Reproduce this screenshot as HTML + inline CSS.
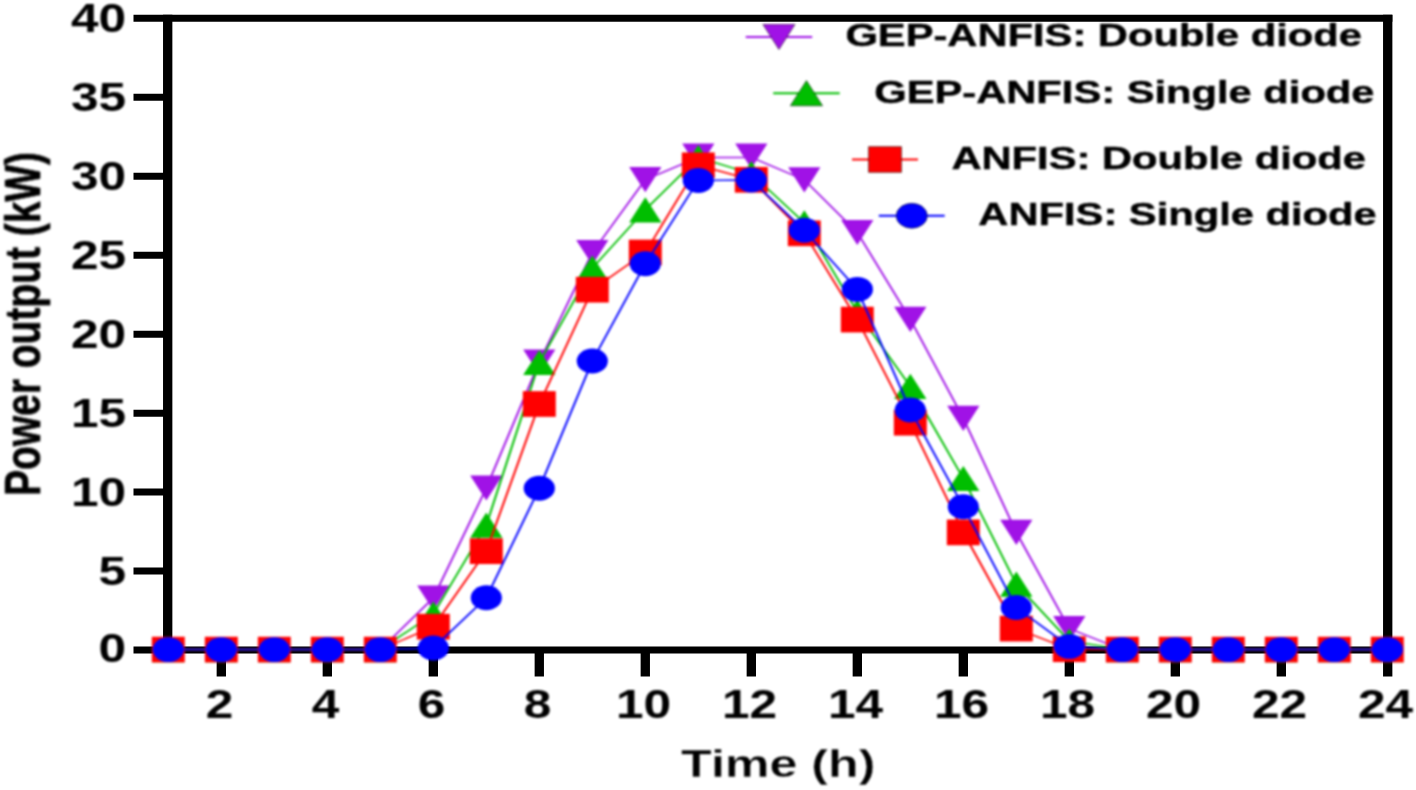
<!DOCTYPE html>
<html lang="en">
<head>
<meta charset="utf-8">
<title>Power output vs Time</title>
<style>
html,body{margin:0;padding:0;background:#fff;}
body{width:1416px;height:790px;overflow:hidden;}
svg{display:block;}
</style>
</head>
<body>
<svg width="1416" height="790" viewBox="0 0 1416 790">
<rect width="1416" height="790" fill="#fff"/>
<defs><filter id="soft" x="-2%" y="-2%" width="104%" height="104%" color-interpolation-filters="sRGB"><feGaussianBlur stdDeviation="0.8"/></filter></defs>
<g transform="scale(1.333333,1)">
<g stroke="#000" stroke-width="7.0" fill="none" stroke-linecap="butt">
<line x1="100.12" y1="18.2" x2="1044.28" y2="18.2"/>
<line x1="100.12" y1="650.0" x2="1044.28" y2="650.0"/>
<line x1="125.77" y1="14.7" x2="125.77" y2="653.5"/>
<line x1="1040.78" y1="14.7" x2="1040.78" y2="676.5"/>
<line x1="100.12" y1="571.05" x2="125.77" y2="571.05"/>
<line x1="100.12" y1="492.10" x2="125.77" y2="492.10"/>
<line x1="100.12" y1="413.15" x2="125.77" y2="413.15"/>
<line x1="100.12" y1="334.20" x2="125.77" y2="334.20"/>
<line x1="100.12" y1="255.25" x2="125.77" y2="255.25"/>
<line x1="100.12" y1="176.30" x2="125.77" y2="176.30"/>
<line x1="100.12" y1="97.35" x2="125.77" y2="97.35"/>
<line x1="165.98" y1="650.0" x2="165.98" y2="676.5"/>
<line x1="245.48" y1="650.0" x2="245.48" y2="676.5"/>
<line x1="324.98" y1="650.0" x2="324.98" y2="676.5"/>
<line x1="404.47" y1="650.0" x2="404.47" y2="676.5"/>
<line x1="483.97" y1="650.0" x2="483.97" y2="676.5"/>
<line x1="563.48" y1="650.0" x2="563.48" y2="676.5"/>
<line x1="642.98" y1="650.0" x2="642.98" y2="676.5"/>
<line x1="722.48" y1="650.0" x2="722.48" y2="676.5"/>
<line x1="801.98" y1="650.0" x2="801.98" y2="676.5"/>
<line x1="881.48" y1="650.0" x2="881.48" y2="676.5"/>
<line x1="960.98" y1="650.0" x2="960.98" y2="676.5"/>
</g>
</g>
<g filter="url(#soft)"><g transform="scale(1.333333,1)">
<g font-family="'Liberation Sans', Arial, sans-serif" font-weight="bold" font-size="40.2" fill="#000">
<text transform="translate(94.65,662.30) scale(0.925,1)" text-anchor="end">0</text>
<text transform="translate(94.65,584.75) scale(0.925,1)" text-anchor="end">5</text>
<text transform="translate(94.65,505.80) scale(0.925,1)" text-anchor="end">10</text>
<text transform="translate(94.65,426.85) scale(0.925,1)" text-anchor="end">15</text>
<text transform="translate(94.65,347.90) scale(0.925,1)" text-anchor="end">20</text>
<text transform="translate(94.65,268.95) scale(0.925,1)" text-anchor="end">25</text>
<text transform="translate(94.65,190.00) scale(0.925,1)" text-anchor="end">30</text>
<text transform="translate(94.65,111.05) scale(0.925,1)" text-anchor="end">35</text>
<text transform="translate(94.65,32.10) scale(0.925,1)" text-anchor="end">40</text>
<text transform="translate(164.62,718) scale(0.925,1)" text-anchor="middle">2</text>
<text transform="translate(244.12,718) scale(0.925,1)" text-anchor="middle">4</text>
<text transform="translate(323.62,718) scale(0.925,1)" text-anchor="middle">6</text>
<text transform="translate(403.12,718) scale(0.925,1)" text-anchor="middle">8</text>
<text transform="translate(482.62,718) scale(0.925,1)" text-anchor="middle">10</text>
<text transform="translate(562.12,718) scale(0.925,1)" text-anchor="middle">12</text>
<text transform="translate(641.62,718) scale(0.925,1)" text-anchor="middle">14</text>
<text transform="translate(721.12,718) scale(0.925,1)" text-anchor="middle">16</text>
<text transform="translate(800.62,718) scale(0.925,1)" text-anchor="middle">18</text>
<text transform="translate(880.12,718) scale(0.925,1)" text-anchor="middle">20</text>
<text transform="translate(959.62,718) scale(0.925,1)" text-anchor="middle">22</text>
<text transform="translate(1039.12,718) scale(0.925,1)" text-anchor="middle">24</text>
</g>
<g font-family="'Liberation Sans', Arial, sans-serif" font-weight="bold" fill="#000">
<text font-size="39.0" stroke="#fff" stroke-width="0.4" transform="translate(583.73,777.3) scale(0.966,1)" text-anchor="middle">Time (h)</text>
<text font-size="39.0" stroke="#000" stroke-width="0.5" stroke-linejoin="round" transform="translate(30.00,323.9) rotate(-90) scale(0.999,0.955)" text-anchor="middle">Power output (kW)</text>
</g>
<polyline fill="none" stroke="#A012E6" stroke-width="1.5" stroke-linejoin="round" points="126.23,649.60 165.98,649.60 205.73,649.60 245.48,649.60 285.23,649.60 324.98,598.00 364.73,488.00 404.47,362.00 444.22,252.50 483.97,179.70 523.73,157.40 563.48,157.40 603.23,179.90 642.98,232.50 682.73,319.30 722.48,418.30 762.23,532.40 801.98,628.70 841.73,649.60 881.48,649.60 921.23,649.60 960.98,649.60 1000.73,649.60 1040.48,649.60"/>
<polygon points="114.13,637.00 138.33,637.00 126.23,662.20" fill="#A012E6"/>
<polygon points="153.88,637.00 178.08,637.00 165.98,662.20" fill="#A012E6"/>
<polygon points="193.63,637.00 217.83,637.00 205.73,662.20" fill="#A012E6"/>
<polygon points="233.38,637.00 257.58,637.00 245.48,662.20" fill="#A012E6"/>
<polygon points="273.12,637.00 297.33,637.00 285.23,662.20" fill="#A012E6"/>
<polygon points="312.88,585.40 337.08,585.40 324.98,610.60" fill="#A012E6"/>
<polygon points="352.62,475.40 376.83,475.40 364.73,500.60" fill="#A012E6"/>
<polygon points="392.37,349.40 416.57,349.40 404.47,374.60" fill="#A012E6"/>
<polygon points="432.12,239.90 456.32,239.90 444.22,265.10" fill="#A012E6"/>
<polygon points="471.87,167.10 496.07,167.10 483.97,192.30" fill="#A012E6"/>
<polygon points="511.62,143.60 535.83,143.60 523.73,168.80" fill="#A012E6"/>
<polygon points="551.38,143.60 575.58,143.60 563.48,168.80" fill="#A012E6"/>
<polygon points="591.12,167.30 615.33,167.30 603.23,192.50" fill="#A012E6"/>
<polygon points="630.88,219.90 655.08,219.90 642.98,245.10" fill="#A012E6"/>
<polygon points="670.62,306.70 694.83,306.70 682.73,331.90" fill="#A012E6"/>
<polygon points="710.38,405.70 734.58,405.70 722.48,430.90" fill="#A012E6"/>
<polygon points="750.12,519.80 774.33,519.80 762.23,545.00" fill="#A012E6"/>
<polygon points="789.88,616.10 814.08,616.10 801.98,641.30" fill="#A012E6"/>
<polygon points="829.62,637.00 853.83,637.00 841.73,662.20" fill="#A012E6"/>
<polygon points="869.38,637.00 893.58,637.00 881.48,662.20" fill="#A012E6"/>
<polygon points="909.12,637.00 933.33,637.00 921.23,662.20" fill="#A012E6"/>
<polygon points="948.88,637.00 973.08,637.00 960.98,662.20" fill="#A012E6"/>
<polygon points="988.62,637.00 1012.83,637.00 1000.73,662.20" fill="#A012E6"/>
<polygon points="1028.38,637.00 1052.58,637.00 1040.48,662.20" fill="#A012E6"/>
<polyline fill="none" stroke="#00BE00" stroke-width="1.5" stroke-linejoin="round" points="126.23,649.60 165.98,649.60 205.73,649.60 245.48,649.60 285.23,649.60 324.98,614.00 364.73,525.20 404.47,362.50 444.22,268.20 483.97,209.80 523.73,157.50 563.48,173.60 603.23,222.80 642.98,312.00 682.73,386.30 722.48,478.50 762.23,584.20 801.98,641.00 841.73,649.60 881.48,649.60 921.23,649.60 960.98,649.60 1000.73,649.60 1040.48,649.60"/>
<polygon points="114.13,662.20 138.33,662.20 126.23,637.00" fill="#00BE00"/>
<polygon points="153.88,662.20 178.08,662.20 165.98,637.00" fill="#00BE00"/>
<polygon points="193.63,662.20 217.83,662.20 205.73,637.00" fill="#00BE00"/>
<polygon points="233.38,662.20 257.58,662.20 245.48,637.00" fill="#00BE00"/>
<polygon points="273.12,662.20 297.33,662.20 285.23,637.00" fill="#00BE00"/>
<polygon points="312.88,626.60 337.08,626.60 324.98,601.40" fill="#00BE00"/>
<polygon points="352.62,537.80 376.83,537.80 364.73,512.60" fill="#00BE00"/>
<polygon points="392.37,375.10 416.57,375.10 404.47,349.90" fill="#00BE00"/>
<polygon points="432.12,280.80 456.32,280.80 444.22,255.60" fill="#00BE00"/>
<polygon points="471.87,222.40 496.07,222.40 483.97,197.20" fill="#00BE00"/>
<polygon points="511.62,170.10 535.83,170.10 523.73,144.90" fill="#00BE00"/>
<polygon points="551.38,186.20 575.58,186.20 563.48,161.00" fill="#00BE00"/>
<polygon points="591.12,235.40 615.33,235.40 603.23,210.20" fill="#00BE00"/>
<polygon points="630.88,324.60 655.08,324.60 642.98,299.40" fill="#00BE00"/>
<polygon points="670.62,398.90 694.83,398.90 682.73,373.70" fill="#00BE00"/>
<polygon points="710.38,491.10 734.58,491.10 722.48,465.90" fill="#00BE00"/>
<polygon points="750.12,596.80 774.33,596.80 762.23,571.60" fill="#00BE00"/>
<polygon points="789.88,653.60 814.08,653.60 801.98,628.40" fill="#00BE00"/>
<polygon points="829.62,662.20 853.83,662.20 841.73,637.00" fill="#00BE00"/>
<polygon points="869.38,662.20 893.58,662.20 881.48,637.00" fill="#00BE00"/>
<polygon points="909.12,662.20 933.33,662.20 921.23,637.00" fill="#00BE00"/>
<polygon points="948.88,662.20 973.08,662.20 960.98,637.00" fill="#00BE00"/>
<polygon points="988.62,662.20 1012.83,662.20 1000.73,637.00" fill="#00BE00"/>
<polygon points="1028.38,662.20 1052.58,662.20 1040.48,637.00" fill="#00BE00"/>
<polyline fill="none" stroke="#FF0000" stroke-width="1.5" stroke-linejoin="round" points="126.23,649.60 165.98,649.60 205.73,649.60 245.48,649.60 285.23,649.60 324.98,626.70 364.73,551.20 404.47,404.00 444.22,289.70 483.97,252.50 523.73,165.30 563.48,179.80 603.23,233.30 642.98,319.60 682.73,422.70 722.48,532.40 762.23,628.60 801.98,649.20 841.73,649.60 881.48,649.60 921.23,649.60 960.98,649.60 1000.73,649.60 1040.48,649.60"/>
<rect x="113.88" y="636.75" width="24.70" height="25.70" fill="#FF0000"/>
<rect x="153.63" y="636.75" width="24.70" height="25.70" fill="#FF0000"/>
<rect x="193.38" y="636.75" width="24.70" height="25.70" fill="#FF0000"/>
<rect x="233.13" y="636.75" width="24.70" height="25.70" fill="#FF0000"/>
<rect x="272.88" y="636.75" width="24.70" height="25.70" fill="#FF0000"/>
<rect x="312.62" y="613.85" width="24.70" height="25.70" fill="#FF0000"/>
<rect x="352.38" y="538.35" width="24.70" height="25.70" fill="#FF0000"/>
<rect x="392.12" y="391.15" width="24.70" height="25.70" fill="#FF0000"/>
<rect x="431.87" y="276.85" width="24.70" height="25.70" fill="#FF0000"/>
<rect x="471.62" y="239.65" width="24.70" height="25.70" fill="#FF0000"/>
<rect x="511.38" y="152.45" width="24.70" height="25.70" fill="#FF0000"/>
<rect x="551.12" y="166.95" width="24.70" height="25.70" fill="#FF0000"/>
<rect x="590.88" y="220.45" width="24.70" height="25.70" fill="#FF0000"/>
<rect x="630.62" y="306.75" width="24.70" height="25.70" fill="#FF0000"/>
<rect x="670.38" y="409.85" width="24.70" height="25.70" fill="#FF0000"/>
<rect x="710.12" y="519.55" width="24.70" height="25.70" fill="#FF0000"/>
<rect x="749.88" y="615.75" width="24.70" height="25.70" fill="#FF0000"/>
<rect x="789.62" y="636.35" width="24.70" height="25.70" fill="#FF0000"/>
<rect x="829.38" y="636.75" width="24.70" height="25.70" fill="#FF0000"/>
<rect x="869.12" y="636.75" width="24.70" height="25.70" fill="#FF0000"/>
<rect x="908.88" y="636.75" width="24.70" height="25.70" fill="#FF0000"/>
<rect x="948.62" y="636.75" width="24.70" height="25.70" fill="#FF0000"/>
<rect x="988.38" y="636.75" width="24.70" height="25.70" fill="#FF0000"/>
<rect x="1028.13" y="636.75" width="24.70" height="25.70" fill="#FF0000"/>
<polyline fill="none" stroke="#0000FF" stroke-width="1.5" stroke-linejoin="round" points="126.23,649.60 165.98,649.60 205.73,649.60 245.48,649.60 285.23,649.60 324.98,648.00 364.73,597.80 404.47,488.30 444.22,361.00 483.97,263.80 523.73,180.50 563.48,180.00 603.23,230.30 642.98,289.40 682.73,410.00 722.48,506.80 762.23,607.50 801.98,646.40 841.73,649.60 881.48,649.60 921.23,649.60 960.98,649.60 1000.73,649.60 1040.48,649.60"/>
<ellipse cx="126.23" cy="649.60" rx="11.7" ry="12.45" fill="#0000FF"/>
<ellipse cx="165.98" cy="649.60" rx="11.7" ry="12.45" fill="#0000FF"/>
<ellipse cx="205.73" cy="649.60" rx="11.7" ry="12.45" fill="#0000FF"/>
<ellipse cx="245.48" cy="649.60" rx="11.7" ry="12.45" fill="#0000FF"/>
<ellipse cx="285.23" cy="649.60" rx="11.7" ry="12.45" fill="#0000FF"/>
<ellipse cx="324.98" cy="648.00" rx="11.7" ry="12.45" fill="#0000FF"/>
<ellipse cx="364.73" cy="597.80" rx="11.7" ry="12.45" fill="#0000FF"/>
<ellipse cx="404.47" cy="488.30" rx="11.7" ry="12.45" fill="#0000FF"/>
<ellipse cx="444.22" cy="361.00" rx="11.7" ry="12.45" fill="#0000FF"/>
<ellipse cx="483.97" cy="263.80" rx="11.7" ry="12.45" fill="#0000FF"/>
<ellipse cx="523.73" cy="180.50" rx="11.7" ry="12.45" fill="#0000FF"/>
<ellipse cx="563.48" cy="180.00" rx="11.7" ry="12.45" fill="#0000FF"/>
<ellipse cx="603.23" cy="230.30" rx="11.7" ry="12.45" fill="#0000FF"/>
<ellipse cx="642.98" cy="289.40" rx="11.7" ry="12.45" fill="#0000FF"/>
<ellipse cx="682.73" cy="410.00" rx="11.7" ry="12.45" fill="#0000FF"/>
<ellipse cx="722.48" cy="506.80" rx="11.7" ry="12.45" fill="#0000FF"/>
<ellipse cx="762.23" cy="607.50" rx="11.7" ry="12.45" fill="#0000FF"/>
<ellipse cx="801.98" cy="646.40" rx="11.7" ry="12.45" fill="#0000FF"/>
<ellipse cx="841.73" cy="649.60" rx="11.7" ry="12.45" fill="#0000FF"/>
<ellipse cx="881.48" cy="649.60" rx="11.7" ry="12.45" fill="#0000FF"/>
<ellipse cx="921.23" cy="649.60" rx="11.7" ry="12.45" fill="#0000FF"/>
<ellipse cx="960.98" cy="649.60" rx="11.7" ry="12.45" fill="#0000FF"/>
<ellipse cx="1000.73" cy="649.60" rx="11.7" ry="12.45" fill="#0000FF"/>
<ellipse cx="1040.48" cy="649.60" rx="11.7" ry="12.45" fill="#0000FF"/>
<g font-family="'Liberation Sans', Arial, sans-serif" font-weight="bold" font-size="32.0" fill="#000" stroke="#000" stroke-width="0.45" stroke-linejoin="round">
<line x1="559.28" y1="36.9" x2="609.15" y2="36.9" stroke="#A012E6" stroke-width="2.0"/>
<polygon points="572.11,24.30 596.31,24.30 584.21,49.50" fill="#A012E6"/>
<text transform="translate(634.05,46.4) scale(0.9776,1)">GEP-ANFIS: Double diode</text>
<line x1="579.90" y1="93.2" x2="629.78" y2="93.2" stroke="#00BE00" stroke-width="2.0"/>
<polygon points="592.74,105.80 616.94,105.80 604.84,80.60" fill="#00BE00"/>
<text transform="translate(655.65,102.7) scale(0.9776,1)">GEP-ANFIS: Single diode</text>
<line x1="639.00" y1="159.5" x2="688.50" y2="159.5" stroke="#FF0000" stroke-width="2.0"/>
<rect x="651.40" y="146.65" width="24.70" height="25.70" fill="#FF0000"/>
<text transform="translate(713.55,168.9) scale(0.9776,1)">ANFIS: Double diode</text>
<line x1="659.10" y1="215.8" x2="708.53" y2="215.8" stroke="#0000FF" stroke-width="2.0"/>
<ellipse cx="683.81" cy="215.80" rx="11.7" ry="12.45" fill="#0000FF"/>
<text transform="translate(733.73,224.7) scale(0.9776,1)">ANFIS: Single diode</text>
</g>
</g></g>
</svg>
</body>
</html>
